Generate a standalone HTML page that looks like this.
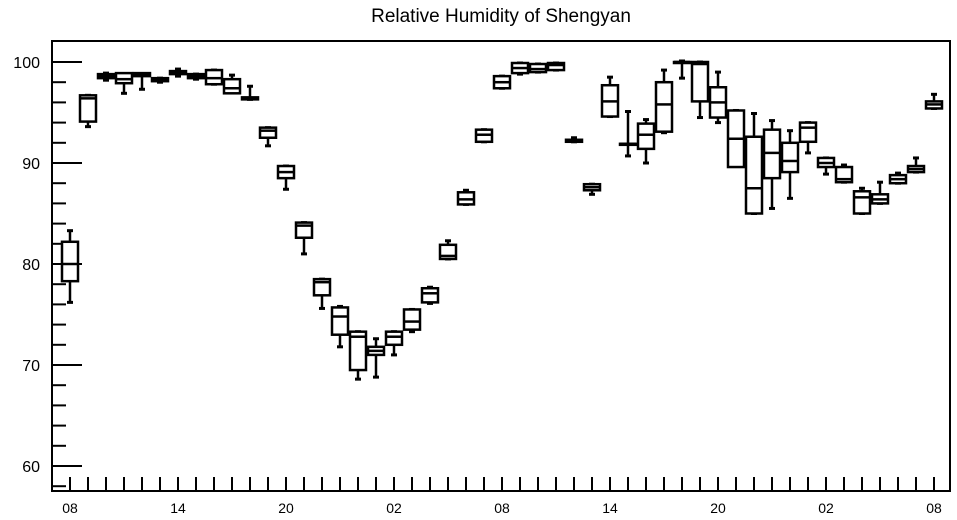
<!DOCTYPE html>
<html><head><meta charset="utf-8"><style>
body{margin:0;background:#fff;}
svg{display:block;font-family:"Liberation Sans",sans-serif;}
</style></head><body>
<svg id="chart" width="957" height="520" viewBox="0 0 957 520" xmlns="http://www.w3.org/2000/svg">
<text x="501" y="22" font-size="19" text-anchor="middle">Relative Humidity of Shengyan</text>
<rect x="52" y="41" width="898" height="450" fill="none" stroke="#000" stroke-width="2"/>
<g id="axes"></g>
<g id="boxes"></g>
</svg>
<script>
// hours since 08:00 of day 1
const hours = [0,1,2,3,4,5,6,7,8,9,10,11,12,13,14,15,16,17,18,19,20,21,22,23,24,25,26,27,28,29,30,31,32,33,34,35,36,37,38,39,40,41,42,43,44,45,46,47,48];
const whiskerLow = [76.2,93.6,98.2,96.9,97.3,98.0,98.6,98.3,97.8,97.0,96.3,91.7,87.4,81.0,75.6,71.8,68.6,68.8,71.0,73.3,76.1,80.5,85.9,92.1,97.4,98.8,99.0,99.2,92.1,86.9,94.6,90.7,90.0,93.0,98.4,94.5,94.0,89.8,85.0,85.5,86.5,91.0,88.9,88.1,85.0,86.0,88.0,89.1,95.4];
const q1 = [78.3,94.1,98.4,97.9,98.6,98.1,98.8,98.4,97.8,96.9,96.3,92.5,88.5,82.6,76.9,73.0,69.5,71.0,72.0,73.5,76.2,80.5,85.9,92.1,97.4,98.9,99.0,99.2,92.1,87.3,94.6,91.8,91.4,93.1,99.9,96.1,94.5,89.6,85.0,88.5,89.1,92.1,89.6,88.1,85.0,86.0,88.0,89.1,95.4];
const medians = [80.0,96.4,98.6,98.3,98.7,98.3,99.0,98.6,98.4,97.4,96.4,93.2,89.1,83.8,78.2,74.8,72.8,71.4,72.8,74.3,77.1,80.8,86.4,92.8,98.0,99.4,99.3,99.7,92.2,87.6,96.1,91.9,92.8,95.8,100.0,99.8,96.0,92.4,87.5,91.0,90.2,93.5,90.0,88.4,86.6,86.4,88.4,89.4,95.8];
const q3 = [82.2,96.7,98.8,98.9,98.9,98.4,99.1,98.8,99.2,98.3,96.5,93.5,89.7,84.1,78.5,75.7,73.3,71.8,73.3,75.5,77.6,81.9,87.1,93.3,98.6,99.9,99.8,99.9,92.3,87.9,97.7,91.9,93.9,98.0,100.0,100.0,97.5,95.2,92.6,93.3,92.0,94.0,90.5,89.6,87.2,86.9,88.8,89.7,96.1];
const whiskerHigh = [83.3,96.7,98.9,98.7,98.8,98.4,99.3,98.8,99.2,98.7,97.6,93.5,89.7,84.1,78.5,75.8,73.3,72.6,73.3,75.5,77.7,82.3,87.3,93.3,98.6,99.9,99.8,99.9,92.5,87.9,98.5,95.1,94.3,99.2,100.1,100.0,99.0,95.2,94.9,94.2,93.2,94.0,90.5,89.8,87.5,88.1,89.0,90.5,96.8];
const yTickLabels = [60,70,80,90,100];
const xTickLabels = ["08","14","20","02","08","14","20","02","08"];

const NS="http://www.w3.org/2000/svg";
const X0=70, PXH=18, Y60=466, PXU=10.1;
function xs(h){return X0+h*PXH;}
function ys(v){return Y60-(v-60)*PXU;}
function mk(tag,attrs,parent){const e=document.createElementNS(NS,tag);for(const k in attrs)e.setAttribute(k,attrs[k]);parent.appendChild(e);return e;}
const axes=document.getElementById('axes');
const boxes=document.getElementById('boxes');
// y minor ticks
for(let v=58;v<=100;v+=2){
  const major=(v%10===0);
  const t=mk('line',{x1:52,x2:major?82:66,y1:ys(v),y2:ys(v),stroke:'#000','stroke-width':2},axes);
  
  
}
yTickLabels.forEach(v=>{
  const t=mk('text',{x:40,y:ys(v)+6,'font-size':16,'text-anchor':'end'},axes);
  t.textContent=String(v);
  
  
});
hours.forEach(h=>{
  const t=mk('line',{x1:xs(h),x2:xs(h),y1:491,y2:477,stroke:'#000','stroke-width':2},axes);
  
  
});
xTickLabels.forEach((s,i)=>{
  const t=mk('text',{x:xs(i*6),y:513,'font-size':14,'text-anchor':'middle'},axes);
  t.textContent=s;
  
  
});
hours.forEach((h,i)=>{
  const g=mk('g',{},boxes);
  
  
  const x=xs(h), w=16;
  const st={stroke:'#000','stroke-width':2.5};
  mk('line',Object.assign({x1:x,x2:x,y1:ys(whiskerHigh[i]),y2:ys(q3[i])},st),g);
  mk('line',Object.assign({x1:x,x2:x,y1:ys(q1[i]),y2:ys(whiskerLow[i])},st),g);
  mk('line',{x1:x-3,x2:x+3,y1:ys(whiskerHigh[i]),y2:ys(whiskerHigh[i]),stroke:'#000','stroke-width':3},g);
  mk('line',{x1:x-3,x2:x+3,y1:ys(whiskerLow[i]),y2:ys(whiskerLow[i]),stroke:'#000','stroke-width':3},g);
  const top=ys(q3[i]), bot=ys(q1[i]);
  mk('rect',Object.assign({x:x-w/2,y:top,width:w,height:Math.max(bot-top,1),fill:'#fff'},st),g);
  mk('line',Object.assign({x1:x-w/2,x2:x+w/2,y1:ys(medians[i]),y2:ys(medians[i])},st),g);
});
</script>
</body></html>
